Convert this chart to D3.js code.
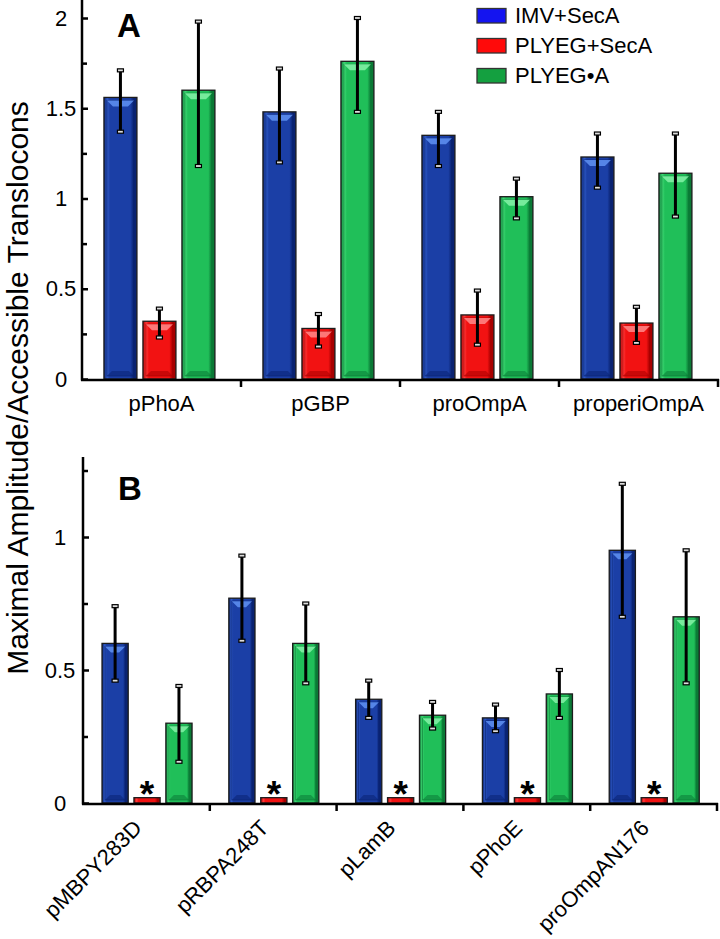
<!DOCTYPE html>
<html>
<head>
<meta charset="utf-8">
<script src="https://cdn.jsdelivr.net/npm/d3@7"></script>
<style>
  html, body { margin: 0; padding: 0; background: #fff; }
  svg { display: block; font-family: "Liberation Sans", Arial, sans-serif; }
</style>
</head>
<body>
<svg id="chart" width="720" height="939"></svg>
<script>
// ---------- data ----------
const series = ["IMV+SecA", "PLYEG+SecA", "PLYEG\u2022A"];

const catsA = ["pPhoA", "pGBP", "proOmpA", "properiOmpA"];
const imvA      = [1.56, 1.48, 1.35, 1.23];
const imvAHi    = [1.71, 1.72, 1.48, 1.36];
const imvALo    = [1.37, 1.20, 1.18, 1.06];
const plyegA    = [0.32, 0.28, 0.355, 0.31];
const plyegAHi  = [0.39, 0.36, 0.49, 0.40];
const plyegALo  = [0.23, 0.18, 0.19, 0.20];
const plyegAA   = [1.60, 1.76, 1.01, 1.14];
const plyegAAHi = [1.98, 2.00, 1.11, 1.36];
const plyegAALo = [1.18, 1.48, 0.89, 0.90];

const catsB = ["pMBPY283D", "pRBPA248T", "pLamB", "pPhoE", "proOmpAN176"];
const imvB      = [0.60, 0.77, 0.39, 0.32, 0.95];
const imvBHi    = [0.74, 0.93, 0.46, 0.37, 1.20];
const imvBLo    = [0.46, 0.61, 0.32, 0.27, 0.70];
const plyegB    = [0.02, 0.02, 0.02, 0.02, 0.02];
const plyegAB   = [0.30, 0.60, 0.33, 0.41, 0.70];
const plyegABHi = [0.44, 0.75, 0.38, 0.50, 0.95];
const plyegABLo = [0.155, 0.45, 0.28, 0.32, 0.45];

const ticksAMajor = [0, 0.5, 1, 1.5, 2];
const ticksAMinor = [0.25, 0.75, 1.25, 1.75];
const ticksBMajor = [0, 0.5, 1];
const ticksBMinor = [0.25, 0.75, 1.25];

// ---------- styles ----------
const barPal = [
  { dark: "#0a2372", mid: "#1b3fa6", light: "#2f5ac6", hi: "#5f92f2", legend: "#1414f0" },
  { dark: "#a80000", mid: "#f21212", light: "#ff3a3a", hi: "#ff8a8a", legend: "#ff0a0a" },
  { dark: "#0b7a36", mid: "#20bf59", light: "#3fd874", hi: "#86f2a8", legend: "#14a040" }
];

const svg = d3.select("#chart");
const defs = svg.append("defs");
barPal.forEach((p, i) => {
  const g = defs.append("linearGradient").attr("id", "bg" + i)
    .attr("x1", "0").attr("x2", "1").attr("y1", "0").attr("y2", "0");
  [[0, p.dark], [0.1, p.light], [0.18, p.mid], [0.8, p.mid], [0.9, p.dark], [1, p.dark]]
    .forEach(([o, c]) => g.append("stop").attr("offset", o).attr("stop-color", c));
});

function rows(cats, vals) {
  return cats.map((c, i) => ({
    cat: c,
    items: vals.map((s, k) => ({ k, v: s.v[i], hi: s.hi ? s.hi[i] : null, lo: s.lo ? s.lo[i] : null }))
  }));
}

function panel(opt) {
  const { cats, data, y, xRange, inner, pad, axisTop, yLabelX, majors, minors, star, rotate, labelY } = opt;
  const x0 = d3.scaleBand().domain(cats).range(xRange).padding(0);
  const gw = x0.bandwidth();
  const x1 = d3.scaleBand().domain(d3.range(3)).range([gw * inner[0], gw * inner[1]]).paddingInner(pad);
  const g = svg.append("g");

  // bars
  data.forEach(row => {
    const gx = x0(row.cat);
    row.items.forEach(d => {
      const bx = gx + x1(d.k), bw = x1.bandwidth();
      const by = y(d.v), bh = y(0) - y(d.v);
      const p = barPal[d.k];
      g.append("rect").attr("x", bx).attr("y", by).attr("width", bw).attr("height", bh)
        .attr("fill", "url(#bg" + d.k + ")").attr("stroke", "#1c1c1c").attr("stroke-width", 1.3);
      if (bh > 14) {
        const ins = 3;
        g.append("rect").attr("x", bx + ins).attr("y", by + ins).attr("width", bw - 2 * ins).attr("height", bh - 2 * ins)
          .attr("fill", "none").attr("stroke", p.dark).attr("stroke-width", 0.8).attr("opacity", 0.8);
        g.append("path").attr("d", d3.line()([[bx + ins, by + ins], [bx + bw - ins, by + ins], [bx + bw - ins - 6, by + ins + 6], [bx + ins + 6, by + ins + 6]]) + "Z")
          .attr("fill", p.hi).attr("opacity", 0.85);
        g.append("path").attr("d", d3.line()([[bx + ins, by + bh - ins], [bx + bw - ins, by + bh - ins], [bx + bw - ins - 5, by + bh - ins - 5], [bx + ins + 5, by + bh - ins - 5]]) + "Z")
          .attr("fill", p.dark).attr("opacity", 0.55);
      }
      if (d.hi != null) {
        const cx = bx + bw / 2;
        g.append("line").attr("x1", cx).attr("x2", cx).attr("y1", y(d.hi)).attr("y2", y(d.lo))
          .attr("stroke", "#000").attr("stroke-width", 3);
        [d.hi, d.lo].forEach(v => {
          g.append("rect").attr("x", cx - 3).attr("y", y(v) - 1.5).attr("width", 6).attr("height", 3)
            .attr("fill", "#ddd").attr("stroke", "#000").attr("stroke-width", 1.2);
        });
      }
      if (star && d.k === 1) {
        g.append("text").attr("x", bx + bw / 2).attr("y", y(d.v) + 9)
          .attr("text-anchor", "middle").attr("font-weight", "bold").attr("font-size", 37)
          .text("*");
      }
    });
  });

  // y axis
  const ax = xRange[0];
  g.append("line").attr("x1", ax).attr("x2", ax).attr("y1", axisTop).attr("y2", y(0) + 1.5)
    .attr("stroke", "#000").attr("stroke-width", 2.5);
  const yMaj = g.append("g").attr("transform", `translate(${ax},0)`)
    .call(d3.axisLeft(y).tickValues(majors).tickSize(-6).tickFormat(d3.format("")));
  yMaj.select(".domain").remove();
  yMaj.selectAll(".tick line").attr("stroke", "#000").attr("stroke-width", 2.5);
  yMaj.selectAll(".tick text").attr("x", yLabelX - ax).attr("text-anchor", "middle")
    .attr("font-size", 22).attr("font-family", "Liberation Sans, Arial, sans-serif").attr("fill", "#000");
  const yMin = g.append("g").attr("transform", `translate(${ax},0)`)
    .call(d3.axisLeft(y).tickValues(minors).tickSize(-5).tickFormat(""));
  yMin.select(".domain").remove();
  yMin.selectAll(".tick line").attr("stroke", "#000").attr("stroke-width", 2.5);

  // x axis
  g.append("line").attr("x1", xRange[0] - 1).attr("x2", xRange[1] + 1).attr("y1", y(0) + 1).attr("y2", y(0) + 1)
    .attr("stroke", "#000").attr("stroke-width", 2.5);
  cats.forEach(c => {
    const tx = x0(c) + gw;
    g.append("line").attr("x1", tx).attr("x2", tx).attr("y1", y(0)).attr("y2", y(0) + 8)
      .attr("stroke", "#000").attr("stroke-width", 2.5);
  });
  const xl = g.append("g").attr("transform", `translate(0,${labelY})`)
    .call(d3.axisBottom(x0).tickSize(0).tickPadding(0));
  xl.select(".domain").remove();
  xl.selectAll(".tick text").attr("font-size", 22).attr("fill", "#000")
    .attr("font-family", "Liberation Sans, Arial, sans-serif");
  if (rotate) {
    xl.selectAll(".tick text").attr("dy", 0).attr("y", 1.5).attr("x", -6)
      .attr("text-anchor", "end").attr("transform", "rotate(-45)");
  } else {
    xl.selectAll(".tick text").attr("dy", 0).attr("y", 0);
  }
}

// ---------- panel A ----------
const yA = d3.scaleLinear().domain([0, 2]).range([379, 18]);
panel({
  cats: catsA,
  data: rows(catsA, [
    { v: imvA, hi: imvAHi, lo: imvALo },
    { v: plyegA, hi: plyegAHi, lo: plyegALo },
    { v: plyegAA, hi: plyegAAHi, lo: plyegAALo }
  ]),
  y: yA, xRange: [82, 718], inner: [0.138, 0.836], pad: 0.154, axisTop: 0, yLabelX: 61,
  majors: ticksAMajor, minors: ticksAMinor, star: false, rotate: false, labelY: 411
});

// ---------- panel B ----------
const yB = d3.scaleLinear().domain([0, 1]).range([803, 537]);
panel({
  cats: catsB,
  data: rows(catsB, [
    { v: imvB, hi: imvBHi, lo: imvBLo },
    { v: plyegB },
    { v: plyegAB, hi: plyegABHi, lo: plyegABLo }
  ]),
  y: yB, xRange: [83, 717], inner: [0.15, 0.86], pad: 0.18, axisTop: 457, yLabelX: 60,
  majors: ticksBMajor, minors: ticksBMinor, star: true, rotate: true, labelY: 824
});

// ---------- panel letters ----------
svg.append("text").attr("x", 117).attr("y", 37).attr("font-size", 33).attr("font-weight", "bold").text("A");
svg.append("text").attr("x", 118).attr("y", 500).attr("font-size", 33).attr("font-weight", "bold").text("B");

// ---------- legend ----------
const leg = svg.append("g");
series.forEach((s, i) => {
  const by = 23 + i * 30;
  leg.append("rect").attr("x", 477).attr("y", by - 14.5).attr("width", 29).attr("height", 14.5)
    .attr("fill", barPal[i].legend).attr("stroke", "#333").attr("stroke-width", 1.3);
  leg.append("text").attr("x", 515).attr("y", by).attr("font-size", 22).attr("fill", "#000").text(s);
});

// ---------- y title ----------
svg.append("text").attr("transform", "translate(28,388) rotate(-90)")
  .attr("text-anchor", "middle").attr("font-size", 30).attr("fill", "#000")
  .text("Maximal Amplitude/Accessible Translocons");
</script>
</body>
</html>
